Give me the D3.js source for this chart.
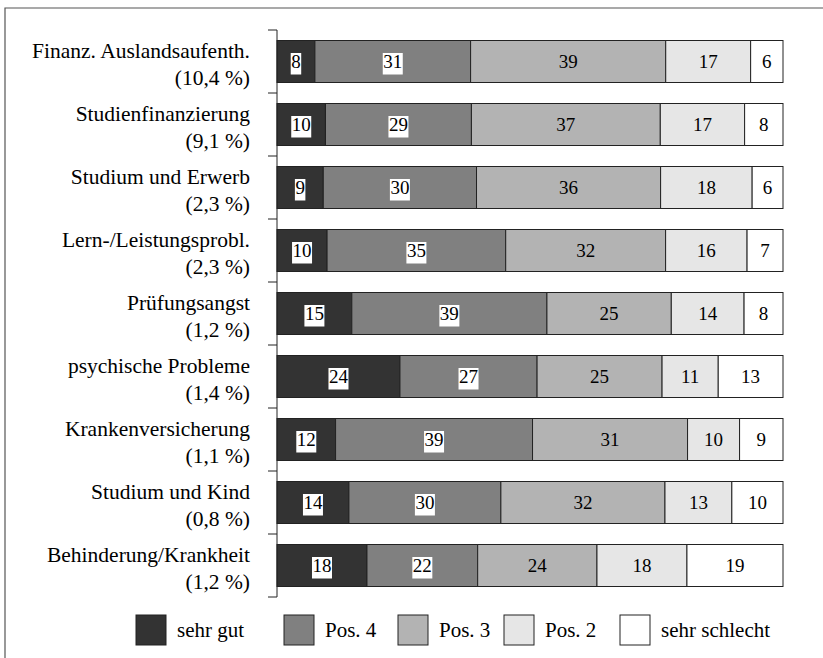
<!DOCTYPE html>
<html>
<head>
<meta charset="utf-8">
<script src="https://cdn.jsdelivr.net/npm/d3@7"></script>
<style>
  body { margin: 0; background: #fff; }
  text { font-family: "Liberation Serif", "Times New Roman", serif; fill: #000; }
</style>
</head>
<body>
<div id="chart"></div>
<script>
const WIDTH = 823;
const HEIGHT = 658;

// Kategorien und Anteile
const categories = ["Finanz. Auslandsaufenth.", "Studienfinanzierung", "Studium und Erwerb",
    "Lern-/Leistungsprobl.", "Prüfungsangst", "psychische Probleme", "Krankenversicherung",
    "Studium und Kind", "Behinderung/Krankheit"];
const shares = ["10,4 %", "9,1 %", "2,3 %", "2,3 %", "1,2 %", "1,4 %", "1,1 %", "0,8 %", "1,2 %"];

const seriesNames = ["sehr gut", "Pos. 4", "Pos. 3", "Pos. 2", "sehr schlecht"];
const sehrGut      = [7.5, 9.6, 9.15, 9.9, 14.8, 24.3, 11.6, 14.2, 17.8];
const pos4         = [30.8, 28.9, 30.3, 35.3, 38.6, 27.1, 39.0, 30.0, 21.9];
const pos3         = [38.6, 37.4, 36.4, 31.6, 24.6, 24.7, 30.7, 32.4, 23.6];
const pos2         = [16.8, 16.7, 18.1, 16.1, 14.4, 11.1, 10.3, 13.2, 17.8];
const sehrSchlecht = [6.4, 7.6, 6.1, 7.1, 7.7, 12.8, 8.6, 10.1, 19.0];

const colors = ["#333333", "#808080", "#b3b3b3", "#e6e6e6", "#ffffff"];

const seriesValues = [sehrGut, pos4, pos3, pos2, sehrSchlecht];
const table = categories.map((c, i) => {
    const row = { category: c };
    seriesNames.forEach((s, j) => row[s] = seriesValues[j][i]);
    return row;
});

const svg = d3.select("#chart")
    .append("svg")
    .attr("width", WIDTH)
    .attr("height", HEIGHT);

// Rahmen (oben und links)
svg.append("path")
    .attr("d", `M5,${HEIGHT} V8 H${WIDTH}`)
    .attr("fill", "none")
    .attr("stroke", "#555")
    .attr("stroke-width", 1.2);

const x = d3.scaleLinear().domain([0, 1]).range([277, 783]);
const y = d3.scaleBand()
    .domain(categories)
    .range([30, 597])
    .paddingInner(1 / 3)
    .paddingOuter(1 / 6);

const stacked = d3.stack().keys(seriesNames).offset(d3.stackOffsetExpand)(table);

const layers = svg.selectAll(".layer")
    .data(stacked)
    .enter().append("g")
    .attr("class", "layer");

layers.selectAll("rect")
    .data(d => d)
    .enter().append("rect")
    .attr("x", d => x(d[0]))
    .attr("y", d => y(d.data.category))
    .attr("width", d => x(d[1]) - x(d[0]))
    .attr("height", y.bandwidth())
    .attr("fill", function() { return colors[stacked.indexOf(d3.select(this.parentNode).datum())]; })
    .attr("stroke", "#222")
    .attr("stroke-width", 1);

// Werte in den Segmenten
layers.each(function(layer, j) {
    const g = d3.select(this);
    layer.forEach(d => {
        const cx = (x(d[0]) + x(d[1])) / 2;
        const cy = y(d.data.category) + y.bandwidth() / 2;
        const label = d3.format(".0f")(d.data[layer.key]);
        const bg = g.append("rect");
        const t = g.append("text")
            .attr("x", cx)
            .attr("y", cy + 6.5)
            .attr("text-anchor", "middle")
            .style("font-size", "19px")
            .text(label);
        if (j < 2) {
            const w = t.node().getComputedTextLength();
            bg.attr("x", cx - w / 2 - 0.5)
                .attr("y", cy - 8.5)
                .attr("width", w + 1)
                .attr("height", 21.5)
                .attr("fill", "#fff");
        } else {
            bg.remove();
        }
    });
});

// Achse mit Strichen an den Bandgrenzen
const bounds = d3.range(categories.length + 1)
    .map(i => y(categories[0]) - y.step() * y.paddingInner() / 2 + i * y.step());

svg.append("line")
    .attr("x1", x(0)).attr("x2", x(0))
    .attr("y1", bounds[0]).attr("y2", bounds[bounds.length - 1])
    .attr("stroke", "#222");

svg.selectAll(".tick")
    .data(bounds)
    .enter().append("line")
    .attr("class", "tick")
    .attr("x1", x(0) - 9).attr("x2", x(0))
    .attr("y1", d => d).attr("y2", d => d)
    .attr("stroke", "#222");

// Kategorienbeschriftung
const catLabels = svg.selectAll(".cat")
    .data(categories)
    .enter().append("text")
    .attr("class", "cat")
    .attr("text-anchor", "end")
    .style("font-size", "21.5px")
    .attr("transform", d => `translate(250,${y(d) + y.bandwidth() / 2})`);

catLabels.append("tspan").attr("x", 0).attr("y", -4).text(d => d);
catLabels.append("tspan").attr("x", 0).attr("y", 23).text((d, i) => `(${shares[i]})`);

// Legende
const legendX = [136, 284, 398, 504, 620];
const legend = svg.selectAll(".legend")
    .data(seriesNames)
    .enter().append("g")
    .attr("class", "legend")
    .attr("transform", (d, i) => `translate(${legendX[i]},615)`);

legend.append("rect")
    .attr("width", 30)
    .attr("height", 30)
    .attr("fill", (d, i) => colors[i])
    .attr("stroke", "#222");

legend.append("text")
    .attr("x", 41)
    .attr("y", 22)
    .style("font-size", "21px")
    .text(d => d);
</script>
</body>
</html>
